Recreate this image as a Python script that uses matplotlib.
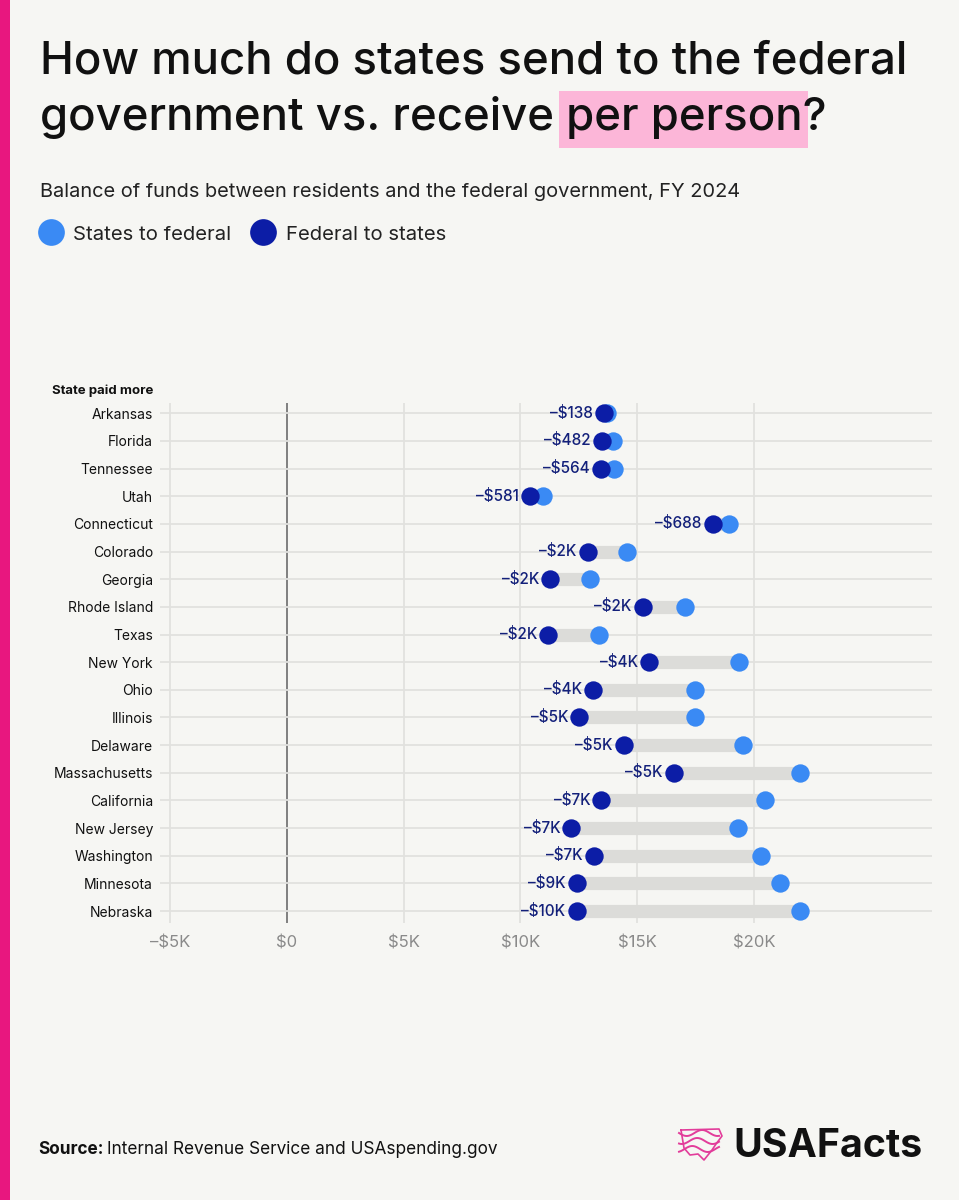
import numpy as np
import matplotlib
matplotlib.use("Agg")
import matplotlib.pyplot as plt
from matplotlib.patches import Rectangle
from matplotlib.ticker import FuncFormatter

# data (dollars per person, FY 2024)
states = ["Arkansas", "Florida", "Tennessee", "Utah", "Connecticut", "Colorado",
          "Georgia", "Rhode Island", "Texas", "New York", "Ohio", "Illinois",
          "Delaware", "Massachusetts", "California", "New Jersey", "Washington",
          "Minnesota", "Nebraska"]
states_to_federal = [13700, 13980, 14010, 10970, 18920, 14580, 12970, 17050, 13370,
                     19380, 17480, 17490, 19550, 21980, 20470, 19310, 20310, 21140, 21970]
federal_to_states = [13560, 13500, 13440, 10390, 18230, 12880, 11270, 15240, 11200,
                     15520, 13100, 12520, 14430, 16580, 13470, 12180, 13150, 12430, 12410]
gap_labels = ["–$138", "–$482", "–$564", "–$581", "–$688", "–$2K", "–$2K", "–$2K",
              "–$2K", "–$4K", "–$4K", "–$5K", "–$5K", "–$5K", "–$7K", "–$7K",
              "–$7K", "–$9K", "–$10K"]
x_ticks = [-5000, 0, 5000, 10000, 15000, 20000]

W, H = 959, 1200
BG = "#F6F6F3"
LIGHT = "#3A8AF4"
DARK = "#0C1DA6"
NAVY = "#13207A"
PINK = "#E8177F"
HILITE = "#FCB6D8"
GRID = "#E1E1DE"

plt.rcParams['font.family'] = ['Inter', 'DejaVu Sans']

fig = plt.figure(figsize=(W / 100, H / 100), dpi=100, facecolor=BG)

# decoration layer in pixel coordinates
deco = fig.add_axes([0, 0, 1, 1])
deco.set_xlim(0, W)
deco.set_ylim(H, 0)
deco.axis('off')
deco.patch.set_visible(False)

deco.add_patch(Rectangle((0, 0), 10, H, color=PINK, lw=0))

# title with the highlighted "per person"
TFS = 32.8
deco.text(40, 73, "How much do states send to the federal", fontsize=TFS,
          fontweight='medium', va='baseline', color='#111111')
line2 = "government vs. receive per person?"
deco.text(40, 130, line2, fontsize=TFS, fontweight='medium', va='baseline',
          color='#111111', zorder=3)
r = fig.canvas.get_renderer()
tmp = deco.text(40, 130, "government vs. receive per person", fontsize=TFS,
                fontweight='medium', va='baseline')
w_end = tmp.get_window_extent(r).width
tmp.set_text("per person")
w_pp = tmp.get_window_extent(r).width
tmp.remove()
deco.add_patch(Rectangle((40 + w_end - w_pp - 7, 90.5), w_pp + 12, 57,
                         color=HILITE, lw=0, zorder=1))

deco.text(40, 197, "Balance of funds between residents and the federal government, FY 2024",
          fontsize=14.4, va='baseline', color='#222222')

# legend
deco.scatter([50.5], [232], s=370, color=LIGHT, lw=0)
deco.text(73, 240, "States to federal", fontsize=14.6, va='baseline', color='#222222')
deco.scatter([263], [232], s=370, color=DARK, lw=0)
deco.text(286, 240, "Federal to states", fontsize=14.6, va='baseline', color='#222222')

deco.text(153, 391, "State paid more", fontsize=9.5, fontweight='bold',
          ha='right', va='center', color='#111111')

# source
src = deco.text(38, 1149, "Source:", fontsize=12.4, fontweight='bold', va='center',
                color='#111111')
w_src = src.get_window_extent(r).width
deco.text(38 + w_src + 4, 1149, "Internal Revenue Service and USAspending.gov",
          fontsize=12.4, va='center', color='#111111')

# logo
deco.text(733, 1157, "USAFacts", fontsize=28.3, fontweight='bold', va='baseline',
          color='#111111')
t = np.linspace(0, 1, 40)
for k, off in enumerate([1133, 1141, 1149]):
    xs = 679 + 40 * t
    ys = off + 3 * np.sin(2 * np.pi * t * 1.3 + k)
    deco.plot(xs, ys, color='#E23C9A', lw=1.4)
deco.plot([681, 719, 722, 716, 712, 704, 698, 690, 684, 681],
          [1130, 1129, 1136, 1144, 1150, 1160, 1154, 1155, 1148, 1130],
          color='#E23C9A', lw=1.2)

# main chart
ax = fig.add_axes([160 / W, 1 - 923 / H, (931.7 - 160) / W, (923 - 403) / H])
ax.set_facecolor(BG)
rows = np.arange(len(states))
ax.set_xlim(-5440, 27620)
ax.set_ylim(len(states) - 1 + 0.43, -0.37)

for v in x_ticks:
    if v == 0:
        ax.axvline(v, color='#7F7F7F', lw=1.4, zorder=1)
    else:
        ax.axvline(v, color=GRID, lw=1.3, zorder=1)
for i in rows:
    ax.axhline(i, color=GRID, lw=1.3, zorder=1)

ax.hlines(rows, federal_to_states, states_to_federal, color='#DCDCD9', lw=9.5, zorder=2)
ax.scatter(states_to_federal, rows, s=175, color=LIGHT, lw=0, zorder=3)
ax.scatter(federal_to_states, rows, s=175, color=DARK, lw=0, zorder=4)

for i, (x, lab) in enumerate(zip(federal_to_states, gap_labels)):
    ax.annotate(lab, (x, i), xytext=(-8, 0), textcoords='offset points',
                ha='right', va='center', fontsize=11, fontweight='medium', color=NAVY)

ax.set_yticks(rows, states)
ax.set_xticks(x_ticks)
ax.xaxis.set_major_formatter(FuncFormatter(
    lambda v, p: "$0" if v == 0 else ("–" if v < 0 else "") + "$%dK" % (abs(v) // 1000)))
ax.tick_params(axis='y', length=0, pad=5, labelsize=10, labelcolor='#111111')
ax.tick_params(axis='x', length=0, pad=9, labelsize=12, labelcolor='#8A8A8A')
for s in ax.spines.values():
    s.set_visible(False)

fig.savefig("out.png", dpi=100, facecolor=BG)
